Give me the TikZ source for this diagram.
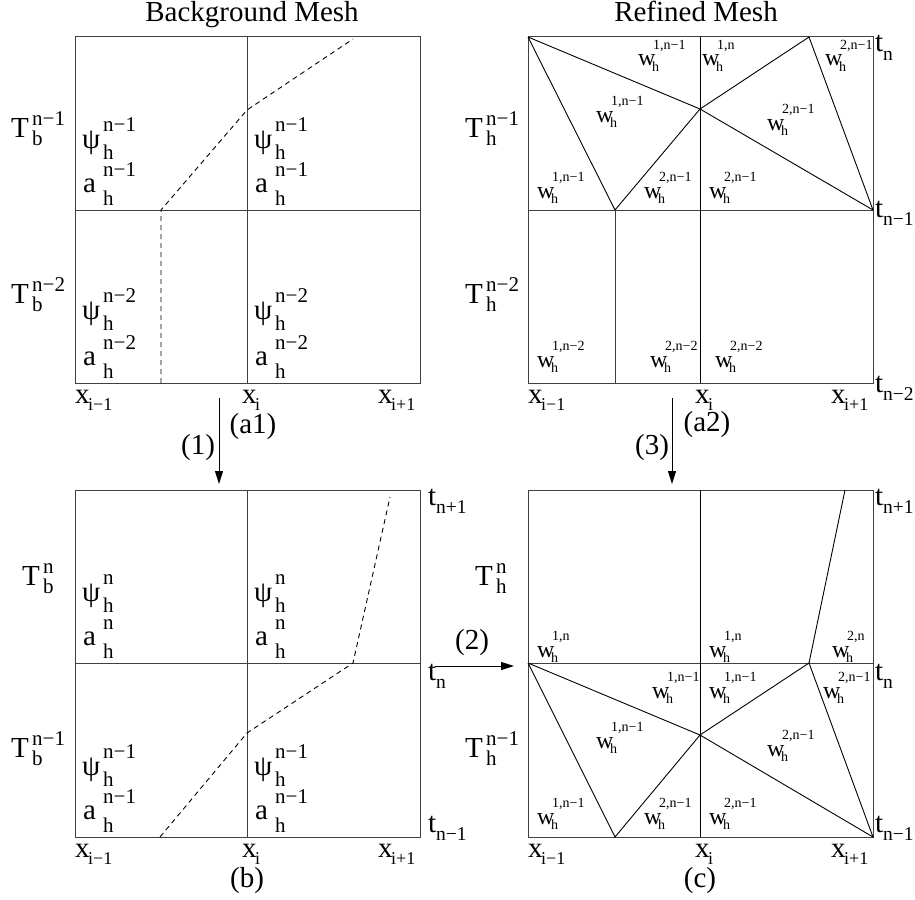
\documentclass[tikz,border=0pt]{standalone}
\usepackage{fontspec}
\setmainfont{Liberation Serif}
\usetikzlibrary{arrows.meta}
\newcommand\fsz[1]{\fontsize{#1}{#1}\selectfont}
\tikzset{
  lbl/.style={inner sep=0pt, anchor=base west},
  big/.style={lbl, font=\fsz{29}},
  scr/.style={lbl, font=\fsz{21}},
  tscr/.style={lbl, font=\fsz{19.5}},
  xscr/.style={lbl, font=\fsz{18}},
  wmain/.style={lbl, font=\fsz{24}},
  wscr/.style={lbl, font=\fsz{14}},
  capt/.style={inner sep=0pt, font=\fsz{29}},
  mesh/.style={line width=1pt, draw=black!75},
  tri/.style={line width=0.9pt, draw=black},
  dsh/.style={line width=0.9pt, dash pattern=on 5pt off 4pt},
  arr/.style={line width=1pt, -{Triangle[length=13pt,width=8pt]}}
}
% psi row: name, x, baseline, sup
\newcommand\PR[4]{%
  \node[big] (#1m) at (#2,#3) {ψ};
  \node[scr] (#1u) at (#2+21,#3-17) {#4};
  \node[scr] (#1d) at (#2+21,#3+11) {h};}
% a row
\newcommand\AR[4]{%
  \node[big] (#1m) at (#2+1,#3) {a};
  \node[scr] (#1u) at (#2+21,#3-16) {#4};
  \node[scr] (#1d) at (#2+21,#3+13) {h};}
% T label: name, x, baseline, sub, sup
\newcommand\TLab[5]{%
  \node[big] (#1m) at (#2,#3) {T};
  \node[scr] (#1u) at (#2+21,#3-12) {#5};
  \node[scr] (#1d) at (#2+21,#3+8) {#4};}
% t label
\newcommand\tLab[4]{%
  \node[big] (#1m) at (#2,#3) {t};
  \node[tscr] (#1d) at (#2+8,#3+8) {#4};}
% x label
\newcommand\XLab[4]{%
  \node[big] (#1m) at (#2,#3) {x};
  \node[xscr] (#1d) at (#2+13,#3+7) {#4};}
% w label
\newcommand\WLab[4]{%
  \node[wmain] (#1m) at (#2,#3) {w};
  \node[wscr] (#1u) at (#2+15,#3-17) {#4};
  \node[wscr] (#1d) at (#2+14,#3+5) {h};}
\begin{document}
\begin{tikzpicture}[x=1pt,y=-1pt]
\useasboundingbox (0,0) rectangle (915,899);
\fill[white] (0,0) rectangle (915,899);

% titles
\node[capt, anchor=base] (title1) at (252,22) {Background Mesh};
\node[capt, anchor=base] (title2) at (696,22) {Refined Mesh};

% ---------- panel a1 ----------
\draw[mesh] (75,37) rectangle (420,383);
\draw[mesh] (75,210) -- (420,210);
\draw[mesh] (247,37) -- (247,383);
\draw[dsh] (161,383) -- (161,210) -- (247,110) -- (353,39);
\PR{p1}{82}{148}{n−1}  \AR{q1}{82}{192}{n−1}
\PR{p2}{254}{148}{n−1} \AR{q2}{254}{192}{n−1}
\PR{p3}{82}{319}{n−2}  \AR{q3}{82}{365}{n−2}
\PR{p4}{254}{319}{n−2} \AR{q4}{254}{365}{n−2}

% ---------- panel a2 ----------
\draw[mesh] (528,37) rectangle (873,383);
\draw[mesh] (528,210) -- (873,210);
\draw[mesh] (615,210) -- (615,383);
\draw[tri] (700,37) -- (700,383);
\draw[tri] (528,37) -- (615,210) -- (700,109) -- (809,37) -- (873,210) -- (700,109) -- (528,37);
\WLab{w1}{638}{66}{1,n−1}
\WLab{w2}{702}{66}{1,n}
\WLab{w3}{825}{66}{2,n−1}
\WLab{w4}{596}{122}{1,n−1}
\WLab{w5}{767}{130}{2,n−1}
\WLab{w6}{537}{198}{1,n−1}
\WLab{w7}{644}{198}{2,n−1}
\WLab{w8}{709}{198}{2,n−1}
\WLab{w9}{537}{367}{1,n−2}
\WLab{w10}{650}{367}{2,n−2}
\WLab{w11}{715}{367}{2,n−2}

% ---------- panel b ----------
\draw[mesh] (75,490) rectangle (420,837);
\draw[mesh] (75,663) -- (420,663);
\draw[mesh] (247,490) -- (247,837);
\draw[dsh] (160,837) -- (247,733) -- (353,663) -- (390,497);
\PR{p5}{82}{601}{n}    \AR{q5}{82}{645}{n}
\PR{p6}{254}{601}{n}   \AR{q6}{254}{645}{n}
\PR{p7}{82}{775}{n−1}  \AR{q7}{82}{819}{n−1}
\PR{p8}{254}{775}{n−1} \AR{q8}{254}{819}{n−1}

% ---------- panel c ----------
\draw[mesh] (528,490) rectangle (873,837);
\draw[mesh] (528,663) -- (873,663);
\draw[tri] (700,490) -- (700,837);
\draw[tri] (845,490) -- (809,663);
\draw[tri] (528,663) -- (615,837) -- (700,735) -- (809,663) -- (873,837) -- (700,735) -- (528,663);
\WLab{v1}{537}{657}{1,n}
\WLab{v2}{709}{657}{1,n}
\WLab{v3}{832}{657}{2,n}
\WLab{v4}{652}{698}{1,n−1}
\WLab{v5}{709}{698}{1,n−1}
\WLab{v6}{823}{698}{2,n−1}
\WLab{v7}{596}{748}{1,n−1}
\WLab{v8}{767}{756}{2,n−1}
\WLab{v9}{537}{824}{1,n−1}
\WLab{v10}{644}{824}{2,n−1}
\WLab{v11}{709}{824}{2,n−1}

% ---------- T labels ----------
\TLab{Tb1}{11}{137}{b}{n−1}
\TLab{Tb2}{11}{303}{b}{n−2}
\TLab{Tb3}{22}{585}{b}{n}
\TLab{Tb4}{11}{757}{b}{n−1}
\TLab{Th1}{465}{137}{h}{n−1}
\TLab{Th2}{465}{303}{h}{n−2}
\TLab{Th3}{475}{585}{h}{n}
\TLab{Th4}{465}{757}{h}{n−1}

% ---------- t labels ----------
\tLab{ta1}{875}{52}{n}
\tLab{ta2}{875}{217}{n−1}
\tLab{ta3}{875}{392}{n−2}
\tLab{tb1}{428}{505}{n+1}
\tLab{tb2}{428}{680}{n}
\tLab{tb3}{428}{832}{n−1}
\tLab{tc1}{875}{505}{n+1}
\tLab{tc2}{875}{680}{n}
\tLab{tc3}{875}{832}{n−1}

% ---------- x labels ----------
\XLab{xa1}{75}{403}{i−1}
\XLab{xa2}{242}{403}{i}
\XLab{xa3}{378}{403}{i+1}
\XLab{xb1}{528}{403}{i−1}
\XLab{xb2}{695}{403}{i}
\XLab{xb3}{831}{403}{i+1}
\XLab{xc1}{75}{857}{i−1}
\XLab{xc2}{242}{857}{i}
\XLab{xc3}{378}{857}{i+1}
\XLab{xd1}{528}{857}{i−1}
\XLab{xd2}{695}{857}{i}
\XLab{xd3}{831}{857}{i+1}

% ---------- captions ----------
\node[capt] (ca1) at (253,427) {(a1)};
\node[capt] (ca2) at (707,425) {(a2)};
\node[capt] (cb) at (247,881) {(b)};
\node[capt] (cc) at (700,881) {(c)};
\node[capt] (s1) at (198,448) {(1)};
\node[capt] (s3) at (652,448) {(3)};
\node[capt] (s2) at (472,643) {(2)};

% ---------- arrows ----------
\coordinate (r1s) at (219,398);
\coordinate (r1e) at (219,484);
\coordinate (r3s) at (672,398);
\coordinate (r3e) at (672,484);
\coordinate (r2s) at (435,666);
\coordinate (r2e) at (514,666);
\draw[arr] (r1s) -- (r1e);
\draw[arr] (r3s) -- (r3e);
\draw[arr] (r2s) -- (r2e);
\end{tikzpicture}
\end{document}
